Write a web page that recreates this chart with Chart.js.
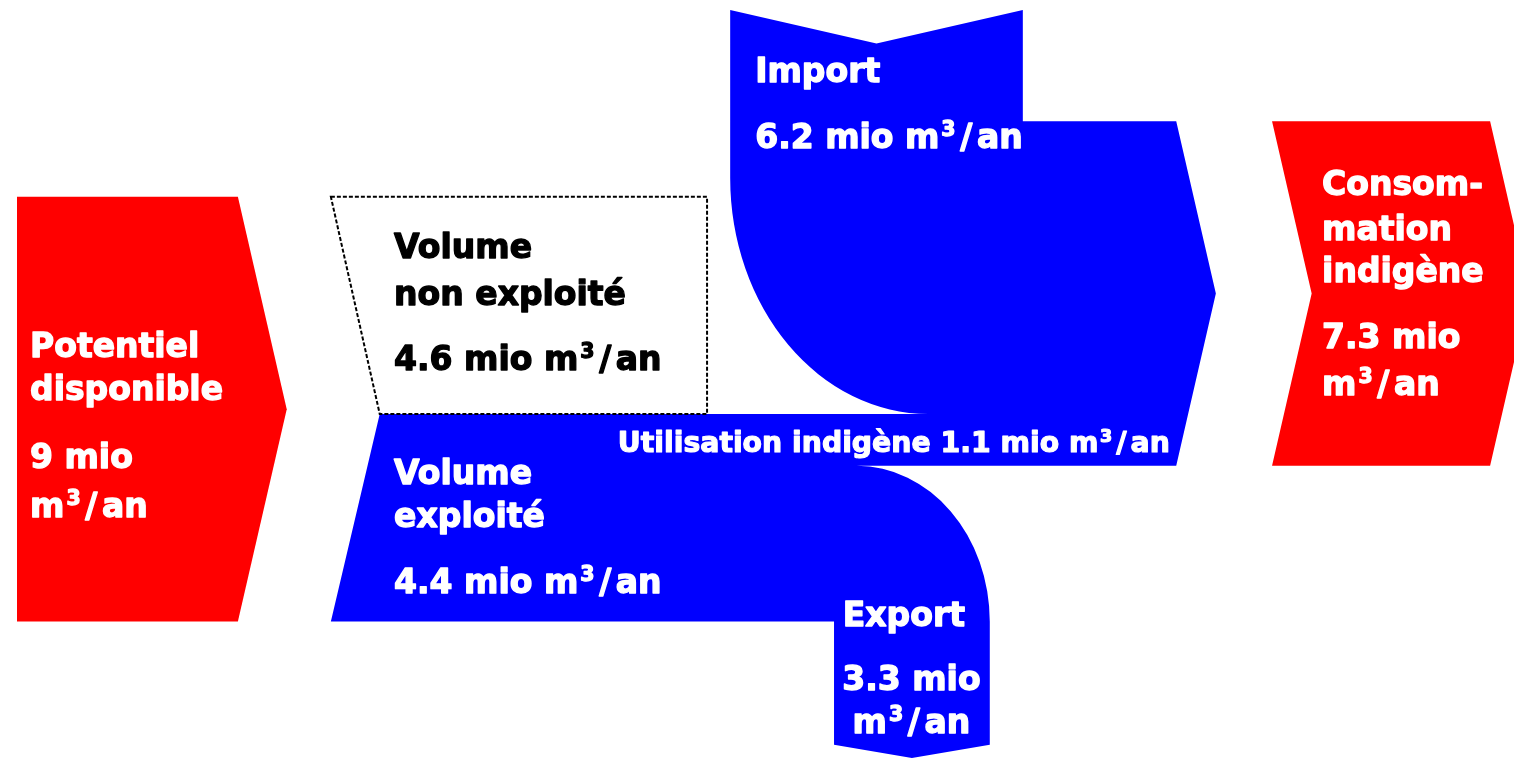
<!DOCTYPE html>
<html>
<head>
<meta charset="utf-8">
<script src="https://cdn.jsdelivr.net/npm/chart.js@4.4.1/dist/chart.umd.min.js"></script>
<style>
html, body { margin: 0; padding: 0; background: #fff; }
canvas { display: block; }
</style>
</head>
<body>
<canvas id="chart" width="1514" height="759"></canvas>
<script>
// volumes in mio m3/an
var sourceLabels = [['Potentiel', 'disponible'], ['Volume', 'non exploité'], ['Volume', 'exploité']];
var sourceValues = [9, 4.6, 4.4];
var flowLabels = [['Import'], ['Utilisation indigène'], ['Export']];
var flowValues = [6.2, 1.1, 3.3];
var sinkLabels = [['Consom-', 'mation', 'indigène']];
var sinkValues = [7.3];
var unitWord = 'mio';
var unitSymbol = 'm³/an';

var pxPerUnit = 47.2;
var slope = 0.23; // chevron slant

// layout, in axis units
var potLeft = 0.36, potRight = 5.04, potTop = 4.17;
var notchLeft = 7.01, boxRight = 14.98;
var impLeft = 15.47, impTop = 0.21, bendRx = 4.2, bendRy = 5.0;
var bandEnd = 24.92;
var expLeft = 17.67, expBottom = 15.78, expTip = 0.28, expRx = 2.82;
var sinkLeft = 26.95, sinkRight = 31.57;

var FONT = '"DejaVu Sans", Verdana, sans-serif';

function oneLine(v) { return v + ' ' + unitWord + ' ' + unitSymbol; }
function twoLines(v) { return [v + ' ' + unitWord, unitSymbol]; }

// text with a raised ³ and a wide slash, like Verdana
function richParts(ctx, line, size) {
	var parts = [];
	var buf = '';
	var flush = function() {
		if (buf) {
			ctx.font = 'bold ' + size + 'px ' + FONT;
			parts.push({ t: buf, size: size, rise: 0, pad: 0, w: ctx.measureText(buf).width });
			buf = '';
		}
	};
	for (var i = 0; i < line.length; i++) {
		var c = line[i];
		if (c === '³') {
			flush();
			var sup = size * 0.62;
			ctx.font = 'bold ' + sup + 'px ' + FONT;
			parts.push({ t: '3', size: sup, rise: size * 0.36, pad: size * 0.06, w: ctx.measureText('3').width + size * 0.06 });
		} else if (c === '/') {
			flush();
			ctx.font = 'bold ' + size + 'px ' + FONT;
			parts.push({ t: '/', size: size, rise: 0, pad: size * 0.14, w: ctx.measureText('/').width + size * 0.28 });
		} else {
			buf += c;
		}
	}
	flush();
	return parts;
}

var flowPlugin = {
	id: 'flows',
	afterDatasetsDraw: function(chart) {
		var ctx = chart.ctx;
		var xs = chart.scales.x, ys = chart.scales.y;
		var X = function(v) { return xs.getPixelForValue(v); };
		var Y = function(v) { return ys.getPixelForValue(v); };
		var DX = function(v) { return X(v) - X(0); };
		var DY = function(v) { return Y(v) - Y(0); };

		var pot = sourceValues[0], non = sourceValues[1], expl = sourceValues[2];
		var imp = flowValues[0], util = flowValues[1], exp = flowValues[2];
		var cons = sinkValues[0];

		var splitY = potTop + non;
		var potBottom = potTop + pot;
		var consTop = splitY - imp;
		var consBottom = consTop + cons;
		var impRight = impLeft + imp;
		var expRight = expLeft + exp;

		ctx.save();

		// red source and sink
		ctx.fillStyle = '#ff0000';
		ctx.beginPath();
		ctx.moveTo(X(potLeft), Y(potTop));
		ctx.lineTo(X(potRight), Y(potTop));
		ctx.lineTo(X(potRight + slope * pot / 2), Y(potTop + pot / 2));
		ctx.lineTo(X(potRight), Y(potBottom));
		ctx.lineTo(X(potLeft), Y(potBottom));
		ctx.closePath();
		ctx.fill();

		ctx.beginPath();
		ctx.moveTo(X(sinkLeft), Y(consTop));
		ctx.lineTo(X(sinkRight), Y(consTop));
		ctx.lineTo(X(sinkRight + slope * cons / 2), Y(consTop + cons / 2));
		ctx.lineTo(X(sinkRight), Y(consBottom));
		ctx.lineTo(X(sinkLeft), Y(consBottom));
		ctx.lineTo(X(sinkLeft + slope * cons / 2), Y(consTop + cons / 2));
		ctx.closePath();
		ctx.fill();

		// blue flows
		var vertexX = notchLeft + slope * pot / 2;
		ctx.fillStyle = '#0000ff';
		ctx.beginPath();
		ctx.moveTo(X(vertexX), Y(splitY));
		ctx.lineTo(X(impLeft + bendRx), Y(splitY));
		ctx.ellipse(X(impLeft + bendRx), Y(splitY - bendRy), DX(bendRx), DY(bendRy), 0, Math.PI / 2, Math.PI, false);
		ctx.lineTo(X(impLeft), Y(impTop));
		ctx.lineTo(X(impLeft + imp / 2), Y(impTop + slope * imp / 2));
		ctx.lineTo(X(impRight), Y(impTop));
		ctx.lineTo(X(impRight), Y(consTop));
		ctx.lineTo(X(bandEnd), Y(consTop));
		ctx.lineTo(X(bandEnd + slope * cons / 2), Y(consTop + cons / 2));
		ctx.lineTo(X(bandEnd), Y(consBottom));
		ctx.lineTo(X(expRight - expRx), Y(consBottom));
		ctx.ellipse(X(expRight - expRx), Y(consBottom + exp), DX(expRx), DY(exp), 0, -Math.PI / 2, 0, false);
		ctx.lineTo(X(expRight), Y(expBottom));
		ctx.lineTo(X(expLeft + exp / 2), Y(expBottom + expTip));
		ctx.lineTo(X(expLeft), Y(expBottom));
		ctx.lineTo(X(expLeft), Y(potBottom));
		ctx.lineTo(X(notchLeft), Y(potBottom));
		ctx.closePath();
		ctx.fill();

		// unused volume, dashed outline
		ctx.strokeStyle = '#000';
		ctx.lineWidth = 2;
		ctx.setLineDash([4, 2]);
		ctx.beginPath();
		ctx.moveTo(X(notchLeft), Y(potTop));
		ctx.lineTo(X(boxRight), Y(potTop));
		ctx.lineTo(X(boxRight), Y(splitY));
		ctx.lineTo(X(vertexX), Y(splitY));
		ctx.closePath();
		ctx.stroke();
		ctx.setLineDash([]);

		// labels
		function write(lines, x, baselines, size, color, align) {
			ctx.fillStyle = color;
			ctx.strokeStyle = color;
			ctx.lineWidth = size * 0.04;
			ctx.lineJoin = 'round';
			ctx.textAlign = 'left';
			ctx.textBaseline = 'alphabetic';
			lines.forEach(function(line, i) {
				var parts = richParts(ctx, line, size);
				var total = parts.reduce(function(a, p) { return a + p.w; }, 0);
				var px = X(x);
				if (align === 'center') px -= total / 2;
				var py = Y(baselines[i]);
				parts.forEach(function(p) {
					ctx.font = 'bold ' + p.size + 'px ' + FONT;
					ctx.fillText(p.t, px + p.pad, py - p.rise);
					ctx.strokeText(p.t, px + p.pad, py - p.rise);
					px += p.w;
				});
			});
		}

		write(sourceLabels[0].concat(twoLines(pot)), 0.636, [7.56, 8.47, 9.92, 10.95], 33, '#fff');
		write(sourceLabels[1].concat([oneLine(non)]), 8.35, [5.47, 6.46, 7.84], 33, '#000');
		write(sourceLabels[2].concat([oneLine(expl)]), 8.35, [10.25, 11.17, 12.56], 33, '#fff');
		write(flowLabels[0].concat([oneLine(imp)]), 16.0, [1.74, 3.14], 33, '#fff');
		write([flowLabels[1][0] + ' ' + oneLine(util)], 13.09, [9.58], 28.3, '#fff');
		write(flowLabels[2], 19.15, [13.26], 33, '#fff', 'center');
		write(twoLines(exp), 19.31, [14.62, 15.53], 33, '#fff', 'center');
		write(sinkLabels[0].concat(twoLines(cons)), 28.01, [4.13, 5.08, 5.97, 7.37, 8.37], 33, '#fff');

		ctx.restore();
	}
};

var ctx = document.getElementById('chart').getContext('2d');
var chart = new Chart(ctx, {
	type: 'scatter',
	data: { datasets: [{ data: [] }] },
	options: {
		responsive: false,
		animation: false,
		devicePixelRatio: 1,
		layout: { padding: 0 },
		plugins: { legend: { display: false }, tooltip: { enabled: false } },
		scales: {
			x: { type: 'linear', display: false, min: 0, max: 1514 / pxPerUnit },
			y: { type: 'linear', display: false, min: 0, max: 759 / pxPerUnit, reverse: true }
		}
	},
	plugins: [flowPlugin]
});
</script>
</body>
</html>
